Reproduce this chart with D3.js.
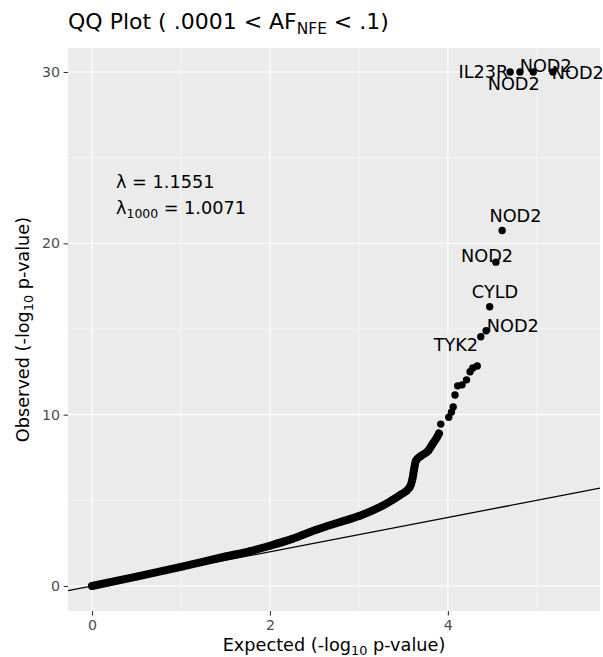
<!DOCTYPE html>
<html>
<head>
<meta charset="utf-8">
<title>QQ Plot</title>
<script src="https://cdn.jsdelivr.net/npm/d3@7"></script>
<style>
    body { margin: 0; background: #fff; }
    svg { display: block; font-family: "DejaVu Sans", sans-serif; }
    .axis path { display: none; }
    .axis line { stroke: #333333; stroke-width: 1.07px; }
    .axis text { fill: #4D4D4D; font-size: 14.2px; font-family: "DejaVu Sans", sans-serif; }
    .grid-major { stroke: #fff; stroke-width: 1.07px; }
    .grid-minor { stroke: #fff; stroke-width: 0.53px; }
    .dot { fill: #000; }
    .lab { font-size: 17.7px; fill: #000; }
</style>
</head>
<body>
<div id="chart"></div>
<script>
// dense part of the curve (expected, observed)
var bandExpected = [0, 0.5, 1.0, 1.5, 1.78, 2.0, 2.25, 2.53, 2.8, 3.01, 3.15, 3.27, 3.37, 3.46, 3.57, 3.60, 3.62, 3.64, 3.70, 3.78, 3.83, 3.88, 3.90];
var bandObserved = [0, 0.55, 1.12, 1.72, 2.04, 2.35, 2.75, 3.3, 3.75, 4.1, 4.4, 4.7, 5.0, 5.3, 5.75, 6.2, 6.8, 7.3, 7.6, 7.9, 8.3, 8.7, 8.9];

// single points in the tail
var tailExpected = [3.92, 4.01, 4.04, 4.06, 4.08, 4.11, 4.16, 4.21, 4.25, 4.28, 4.33, 4.37, 4.43, 4.47, 4.54, 4.61, 4.70, 4.81, 4.96, 5.18];
var tailObserved = [9.45, 9.85, 10.15, 10.45, 11.15, 11.68, 11.74, 12.03, 12.5, 12.73, 12.84, 14.55, 14.9, 16.3, 18.9, 20.75, 30, 30, 30, 30];

// gene labels (label anchor in data units)
var geneNames = ['IL23R', 'NOD2', 'NOD2', 'NOD2', 'NOD2', 'NOD2', 'CYLD', 'NOD2', 'TYK2'];
var geneX = [4.40, 5.10, 4.74, 5.46, 4.76, 4.44, 4.53, 4.73, 4.09];
var geneY = [30.0, 30.35, 29.3, 29.95, 21.6, 19.3, 17.2, 15.2, 14.07];

var xTicks = [0, 2, 4];
var yTicks = [0, 10, 20, 30];
var xMinor = [1, 3, 5];
var yMinor = [5, 15, 25];

var lambdaText = ['1.1551', '1.0071'];

var width = 603, height = 657;
var panel = {left: 68, right: 600, top: 48, bottom: 611};

var svg = d3.select('#chart').append('svg')
    .attr('width', width)
    .attr('height', height);

var x = d3.scaleLinear().domain([-0.27, 5.71]).range([panel.left, panel.right]);
var y = d3.scaleLinear().domain([-1.46, 31.4]).range([panel.bottom, panel.top]);

svg.append('rect')
    .attr('x', panel.left).attr('y', panel.top)
    .attr('width', panel.right - panel.left)
    .attr('height', panel.bottom - panel.top)
    .attr('fill', '#EBEBEB');

svg.append('clipPath').attr('id', 'clip')
    .append('rect')
    .attr('x', panel.left).attr('y', panel.top)
    .attr('width', panel.right - panel.left)
    .attr('height', panel.bottom - panel.top);

// grid
svg.selectAll('.gxm').data(xMinor).enter().append('line')
    .attr('class', 'grid-minor')
    .attr('x1', d => x(d)).attr('x2', d => x(d))
    .attr('y1', panel.top).attr('y2', panel.bottom);
svg.selectAll('.gym').data(yMinor).enter().append('line')
    .attr('class', 'grid-minor')
    .attr('y1', d => y(d)).attr('y2', d => y(d))
    .attr('x1', panel.left).attr('x2', panel.right);
svg.selectAll('.gx').data(xTicks).enter().append('line')
    .attr('class', 'grid-major')
    .attr('x1', d => x(d)).attr('x2', d => x(d))
    .attr('y1', panel.top).attr('y2', panel.bottom);
svg.selectAll('.gy').data(yTicks).enter().append('line')
    .attr('class', 'grid-major')
    .attr('y1', d => y(d)).attr('y2', d => y(d))
    .attr('x1', panel.left).attr('x2', panel.right);

var plot = svg.append('g').attr('clip-path', 'url(#clip)');

// y = x reference line
plot.append('line')
    .attr('x1', x(-0.27)).attr('y1', y(-0.27))
    .attr('x2', x(5.71)).attr('y2', y(5.71))
    .attr('stroke', '#000').attr('stroke-width', 1.3);

var band = bandExpected.map(function(d, i){ return [d, bandObserved[i]]; });
var tail = tailExpected.map(function(d, i){ return [d, tailObserved[i]]; });

plot.append('path')
    .datum(band)
    .attr('d', d3.line().x(d => x(d[0])).y(d => y(d[1])).curve(d3.curveMonotoneX))
    .attr('fill', 'none')
    .attr('stroke', '#000')
    .attr('stroke-width', 8)
    .attr('stroke-linecap', 'round')
    .attr('stroke-linejoin', 'round');

plot.selectAll('.dot').data(band.concat(tail)).enter().append('circle')
    .attr('class', 'dot')
    .attr('cx', d => x(d[0]))
    .attr('cy', d => y(d[1]))
    .attr('r', 3.7);

// gene labels
svg.selectAll('.gene').data(geneNames).enter().append('text')
    .attr('class', 'lab')
    .attr('x', (d, i) => x(geneX[i]))
    .attr('y', (d, i) => y(geneY[i]))
    .attr('dy', '0.36em')
    .attr('text-anchor', 'middle')
    .text(d => d);

// lambda annotation
var l1 = svg.append('text').attr('class', 'lab')
    .attr('x', x(0.27)).attr('y', y(23.6)).attr('dy', '0.36em');
l1.append('tspan').text('\u03bb = ' + lambdaText[0]);

var l2 = svg.append('text').attr('class', 'lab')
    .attr('x', x(0.27)).attr('y', y(22.1)).attr('dy', '0.36em');
l2.append('tspan').text('\u03bb');
l2.append('tspan').attr('font-size', '12.4px').attr('dy', '4').text('1000');
l2.append('tspan').attr('dy', '-4').text(' = ' + lambdaText[1]);

// axes
svg.append('g')
    .attr('class', 'axis')
    .attr('transform', 'translate(0,' + panel.bottom + ')')
    .call(d3.axisBottom(x).tickValues(xTicks).tickFormat(d3.format('d')).tickSize(4.4).tickPadding(5));

svg.append('g')
    .attr('class', 'axis')
    .attr('transform', 'translate(' + panel.left + ',0)')
    .call(d3.axisLeft(y).tickValues(yTicks).tickFormat(d3.format('d')).tickSize(4.4).tickPadding(3.5));

// axis titles
var xt = svg.append('text').attr('class', 'lab')
    .attr('x', (panel.left + panel.right) / 2).attr('y', 651)
    .attr('text-anchor', 'middle');
xt.append('tspan').text('Expected (-log');
xt.append('tspan').attr('font-size', '12.8px').attr('dy', '4').text('10');
xt.append('tspan').attr('dy', '-4').text(' p-value)');

var yt = svg.append('text').attr('class', 'lab')
    .attr('transform', 'translate(29,' + (panel.top + panel.bottom) / 2 + ') rotate(-90)')
    .attr('text-anchor', 'middle');
yt.append('tspan').text('Observed (-log');
yt.append('tspan').attr('font-size', '12.8px').attr('dy', '4').text('10');
yt.append('tspan').attr('dy', '-4').text(' p-value)');

// title
var tt = svg.append('text')
    .attr('x', panel.left).attr('y', 29)
    .attr('font-size', '22px').attr('fill', '#000');
tt.append('tspan').text('QQ Plot ( .0001 < AF');
tt.append('tspan').attr('font-size', '15.4px').attr('dy', '4.5').text('NFE');
tt.append('tspan').attr('dy', '-4.5').text(' < .1)');
</script>
</body>
</html>
